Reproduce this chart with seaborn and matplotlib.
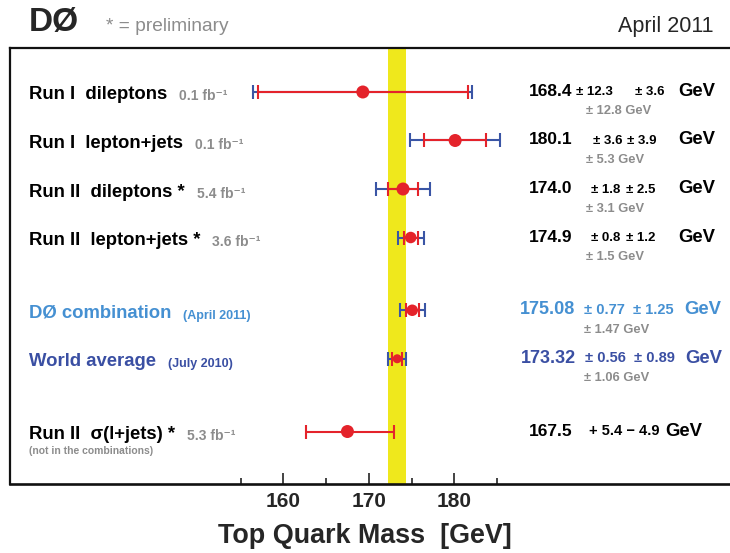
import numpy as np
import pandas as pd
import seaborn as sns
import matplotlib
matplotlib.use("Agg")
import matplotlib.pyplot as plt
import matplotlib.transforms as mtransforms

# measurements (top to bottom)
labels = ["Run I  dileptons", "Run I  lepton+jets", "Run II  dileptons *",
          "Run II  lepton+jets *", "DØ combination", "World average",
          "Run II  σ(l+jets) *"]
tags = ["0.1 fb⁻¹", "0.1 fb⁻¹", "5.4 fb⁻¹", "3.6 fb⁻¹",
        "(April 2011)", "(July 2010)", "5.3 fb⁻¹"]
mass_label = ["168.4", "180.1", "174.0", "174.9", "175.08", "173.32", "167.5"]
mass = [169.3, 180.1, 174.0, 174.9, 175.08, 173.32, 167.5]   # as drawn
stat_lo = [12.3, 3.6, 1.8, 0.8, 0.77, 0.56, 4.9]
stat_hi = [12.3, 3.6, 1.8, 0.8, 0.77, 0.56, 5.4]
syst = [3.6, 3.9, 2.5, 1.2, 1.25, 0.89, np.nan]
total = [12.8, 5.3, 3.1, 1.5, 1.47, 1.06, np.nan]

# layout
pos = [0, 1, 2, 3, 4.5, 5.5, 7]
msize = [13, 13, 13, 11.5, 11.5, 9, 13]   # marker diameter, px
val_right = [572, 572, 572, 572, 575, 576, 572]
stat_x = [576, 593, 591, 591, 584, 585, 589]
syst_x = [635, 627, 626, 626, 633, 634, None]
gev_right = [715, 715, 715, 715, 721, 722, 702]
tot_x = [586, 586, 586, 586, 584, 584, None]

RED = "#e4232b"
BLUE = "#3a55a5"
LBLUE = "#4590d2"
DBLUE = "#3a4fa3"
GRAY = "#8c8c8c"
YELLOW = "#efe81c"
row_col = ["k", "k", "k", "k", LBLUE, DBLUE, "k"]
tag_col = [GRAY, GRAY, GRAY, GRAY, LBLUE, DBLUE, GRAY]

sns.set_style("ticks")
plt.rcParams["font.family"] = ["Liberation Sans", "DejaVu Sans"]

W, H = 730, 553
fig = plt.figure(figsize=(W / 100, H / 100), dpi=100)
ax = fig.add_axes([10 / W, 69 / H, 1 - 10 / W, 436 / H])

# world average band
ax.axvspan(mass[5] - total[5], mass[5] + total[5], color=YELLOW, lw=0, zorder=0)

cap = 4.7
for i in range(len(mass)):
    if not np.isnan(total[i]):
        ax.errorbar(mass[i], pos[i], xerr=total[i], fmt="none", ecolor=BLUE,
                    elinewidth=1.5, capsize=cap, capthick=1.5, zorder=2)
    ax.errorbar(mass[i], pos[i], xerr=[[stat_lo[i]], [stat_hi[i]]], fmt="none",
                ecolor=RED, elinewidth=1.5, capsize=cap, capthick=1.5, zorder=3)

df = pd.DataFrame({"mass": mass, "pos": pos})
sns.scatterplot(data=df, x="mass", y="pos", ax=ax, color=RED, edgecolor="none",
                s=[(d * 0.72) ** 2 for d in msize], zorder=4, legend=False)

ax.set_xlim(128.03, 212.25)
ax.set_ylim(8.082, -0.907)
ax.set_yticks([])
ax.set_ylabel("")
ax.set_xticks([160, 170, 180])
ax.set_xticks([155, 165, 175, 185], minor=True)
ax.tick_params(axis="x", which="major", direction="in", length=8, width=1.1,
               pad=6, labelsize=15, color="#111111")
ax.tick_params(axis="x", which="minor", direction="in", length=4.3, width=1.1,
               color="#111111")
for lbl in ax.get_xticklabels():
    lbl.set_fontweight("bold")
ax.set_xlabel("Top Quark Mass  [GeV]", fontsize=19.4, fontweight="bold")
ax.xaxis.set_label_coords((365 - 10) / 720, -0.0885)
ax.xaxis.label.set_va("top")
ax.spines["right"].set_visible(False)
ax.spines["bottom"].set_linewidth(1.9)
ax.spines["left"].set_linewidth(1.6)
ax.spines["top"].set_linewidth(1.6)
for s in ax.spines.values():
    s.set_color("#111111")

trans = mtransforms.blended_transform_factory(fig.transFigure, ax.transData)


def row_text(px, row, dy, s, **kw):
    tr = trans + mtransforms.ScaledTranslation(0, -dy / 100, fig.dpi_scale_trans)
    return ax.text(px / W, row, s, transform=tr, va="baseline", **kw)


for i in range(len(labels)):
    t = row_text(29, pos[i], 7.5, labels[i], fontsize=13.3, fontweight="bold",
                 color=row_col[i])
    small = 10 if tag_col[i] == GRAY else 9
    ax.annotate(tags[i], xy=(1, 0), xycoords=t, xytext=(8.6, 0),
                textcoords="offset points", va="bottom", fontsize=small,
                fontweight="bold", color=tag_col[i])

    big = i in (4, 5)
    esize = 10.5 if big else 9.5
    row_text(val_right[i], pos[i], 4, mass_label[i], ha="right",
             fontsize=13 if big else 12.5, fontweight="bold", color=row_col[i])
    if stat_lo[i] == stat_hi[i]:
        row_text(stat_x[i], pos[i], 3.5, f"± {stat_lo[i]:g}", fontsize=esize,
                 fontweight="bold", color=row_col[i])
        row_text(syst_x[i], pos[i], 3.5, f"± {syst[i]:g}", fontsize=esize,
                 fontweight="bold", color=row_col[i])
        row_text(tot_x[i], pos[i], 22.5, f"± {total[i]:g} GeV", fontsize=9.3,
                 fontweight="bold", color=GRAY)
    else:
        row_text(stat_x[i], pos[i], 3.5, f"+ {stat_hi[i]:g} \u2212 {stat_lo[i]:g}",
                 fontsize=10.5, fontweight="bold", color=row_col[i])
    row_text(gev_right[i], pos[i], 4, "GeV", ha="right", fontsize=13.3,
             fontweight="bold", color=row_col[i])

row_text(29, pos[6], 22, "(not in the combinations)", fontsize=7.5,
         fontweight="bold", color=GRAY)

fig.text(29 / W, 1 - 31 / H, "DØ", fontsize=24, fontweight="bold", va="baseline")
fig.text(106 / W, 1 - 31 / H, "* = preliminary", fontsize=13.8, color=GRAY,
         va="baseline")
fig.text(713 / W, 1 - 32 / H, "April 2011", fontsize=15.5, ha="right",
         va="baseline")

fig.savefig("out.png", dpi=100)
